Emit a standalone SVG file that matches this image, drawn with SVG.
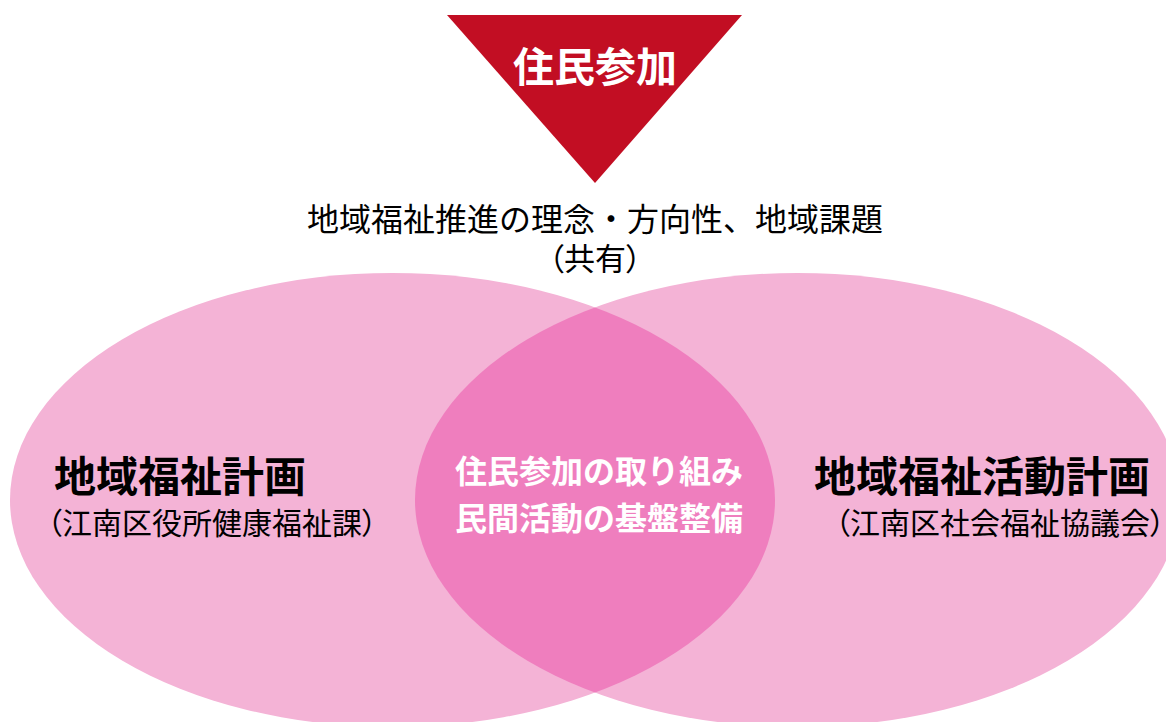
<svg xmlns="http://www.w3.org/2000/svg" width="1166" height="722" viewBox="0 0 1166 722">
<style>
text{font-family:"Noto Sans CJK JP","Noto Sans CJK SC",sans-serif;}
.b{font-weight:bold;}
.w{fill:#ffffff;}
.k{fill:#000000;}
.p{font-feature-settings:"palt";}
</style>
<defs>
<clipPath id="clipL"><ellipse cx="392.5" cy="500" rx="382.5" ry="227"/></clipPath>
</defs>
<g id="ellipse-left"><ellipse cx="392.5" cy="500" rx="382.5" ry="227" fill="#F4B3D6"/></g>
<g id="ellipse-right"><ellipse cx="797.5" cy="500" rx="382.5" ry="227" fill="#F4B3D6"/></g>
<g id="overlap"><ellipse cx="797.5" cy="500" rx="382.5" ry="227" fill="#EF7EBE" clip-path="url(#clipL)"/></g>
<g id="participation">
<polygon points="447,15 742,15 595,183" fill="#C20E23"/>
<text x="595" y="82" font-size="41" text-anchor="middle" class="b w">住民参加</text>
</g>
<g id="shared">
<text x="595" y="231" font-size="32" text-anchor="middle" class="k">地域福祉推進の理念・方向性、地域課題</text>
<text x="595" y="270" font-size="31" text-anchor="middle" class="k p">（共有）</text>
</g>
<g id="left-label">
<text x="54" y="492" font-size="42" class="b k">地域福祉計画</text>
<text x="47" y="534" font-size="30" class="k p">（江南区役所健康福祉課）</text>
</g>
<g id="center-label">
<text x="599" y="483" font-size="32" text-anchor="middle" class="b w">住民参加の取り組み</text>
<text x="599" y="530" font-size="32" text-anchor="middle" class="b w">民間活動の基盤整備</text>
</g>
<g id="right-label">
<text x="814" y="492" font-size="42" class="b k">地域福祉活動計画</text>
<text x="835" y="534" font-size="30" class="k p">（江南区社会福祉協議会）</text>
</g>
<g id="connectors"></g>
</svg>
